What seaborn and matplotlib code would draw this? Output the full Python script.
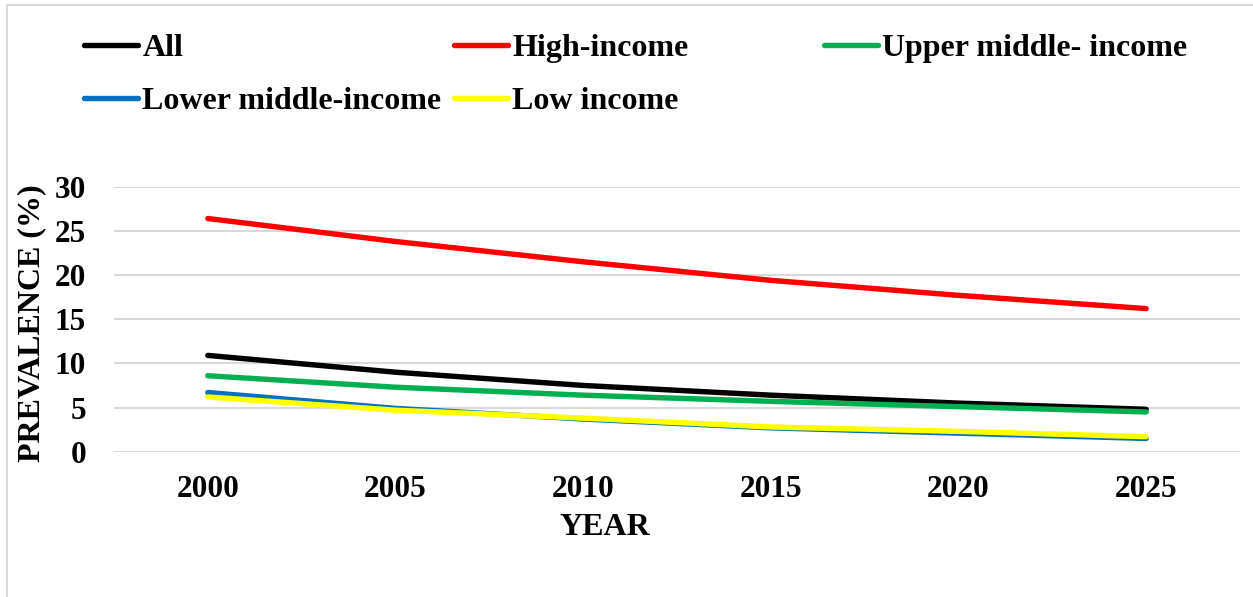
import pandas as pd
import seaborn as sns
import matplotlib.pyplot as plt
from matplotlib.patches import Rectangle

years = [2000, 2005, 2010, 2015, 2020, 2025]
groups = ['All', 'High-income', 'Upper middle- income', 'Lower middle-income', 'Low income']
all_vals = [10.9, 9.0, 7.5, 6.4, 5.5, 4.8]
high_vals = [26.4, 23.8, 21.5, 19.4, 17.7, 16.2]
upper_mid_vals = [8.6, 7.3, 6.4, 5.7, 5.1, 4.5]
lower_mid_vals = [6.7, 4.9, 3.7, 2.7, 2.1, 1.5]
low_vals = [6.2, 4.7, 3.8, 2.8, 2.3, 1.7]
y_ticks = [0, 5, 10, 15, 20, 25, 30]

colors = ['#000000', '#FF0000', '#00B050', '#0070C0', '#FFFF00']

series = [all_vals, high_vals, upper_mid_vals, lower_mid_vals, low_vals]
rows = []
for g, vals in zip(groups, series):
    for yr, v in zip(years, vals):
        rows.append({'Year': yr, 'Prevalence': v, 'Group': g})
df = pd.DataFrame(rows)

sns.set_style('white')
plt.rcParams['font.family'] = ['Liberation Serif', 'DejaVu Serif']
plt.rcParams['font.weight'] = 'bold'
plt.rcParams['text.color'] = 'black'
plt.rcParams['axes.labelcolor'] = 'black'
plt.rcParams['xtick.color'] = 'black'
plt.rcParams['ytick.color'] = 'black'

fig = plt.figure(figsize=(12.53, 5.97), dpi=100)
ax = fig.add_axes([114 / 1253, 1 - 451.7 / 597, 1126 / 1253, 265 / 597])

sns.lineplot(data=df, x='Year', y='Prevalence', hue='Group', hue_order=groups,
             palette=colors, linewidth=3.9, legend=False, ax=ax)
for ln in ax.lines:
    ln.set_solid_capstyle('round')

ax.set_xlim(1997.5, 2027.5)
ax.set_ylim(0, 30)
ax.set_xticks(years)
ax.set_xticklabels([str(y) for y in years])
ax.set_yticks(y_ticks)
ax.grid(axis='y', color='#D9D9D9', linewidth=1.5)
ax.set_axisbelow(True)
for s in ax.spines.values():
    s.set_visible(False)
ax.tick_params(axis='both', length=0, labelsize=22.5, labelcolor='black')
ax.tick_params(axis='y', pad=20)
ax.tick_params(axis='x', pad=17)

ax.set_xlabel('YEAR', fontsize=23, fontweight='bold', color='black')
ax.xaxis.set_label_coords(0.436, -0.232)
ax.set_ylabel('PREVALENCE (%)', fontsize=23, fontweight='bold', color='black')
ax.yaxis.set_label_coords(-0.06, 0.485)

# legend laid out like the original: three evenly spaced columns
handles = list(ax.lines)
cols = [([0, 3], 84), ([1, 4], 454), ([2], 824)]
for idx, xpix in cols:
    fig.legend([handles[i] for i in idx], [groups[i] for i in idx],
               loc='upper left', bbox_to_anchor=(xpix / 1253, 1 - 34 / 597),
               frameon=False, borderpad=0, borderaxespad=0,
               handlelength=1.7, handletextpad=0.13, labelspacing=0.72,
               prop={'size': 23, 'weight': 'bold'})

fig.patches.append(Rectangle((7 / 1253, -0.1), 1.2, 1.1 - 5 / 597, transform=fig.transFigure,
                             fill=False, edgecolor='#D9D9D9', linewidth=1.5))

fig.savefig('out.png', dpi=100, facecolor='white')
